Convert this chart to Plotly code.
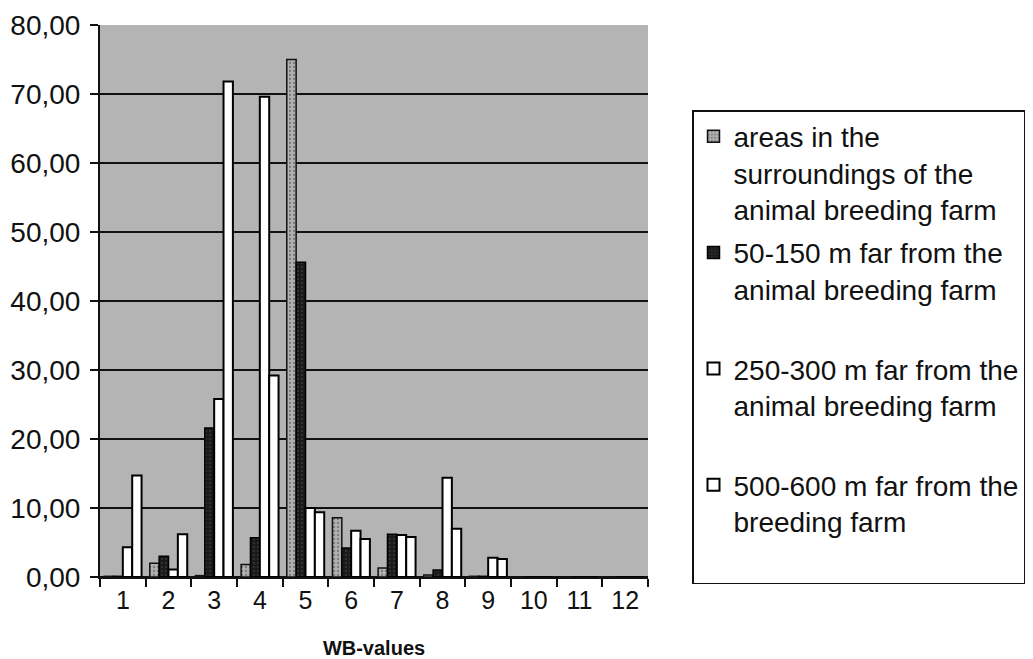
import plotly.graph_objects as go

categories = ["1", "2", "3", "4", "5", "6", "7", "8", "9", "10", "11", "12"]
surroundings = [0.1, 2.0, 0.2, 1.8, 75.0, 8.6, 1.3, 0.3, 0.1, 0.0, 0.0, 0.0]
m50_150 = [0.1, 3.0, 21.6, 5.7, 45.6, 4.2, 6.2, 1.0, 0.1, 0.0, 0.0, 0.0]
m250_300 = [4.3, 1.1, 25.8, 69.6, 10.0, 6.7, 6.1, 14.4, 2.8, 0.0, 0.0, 0.0]
m500_600 = [14.7, 6.2, 71.8, 29.2, 9.4, 5.5, 5.8, 7.0, 2.6, 0.0, 0.0, 0.0]
y_ticks = [0, 10, 20, 30, 40, 50, 60, 70, 80]

names = [
    "areas in the<br>surroundings of the<br>animal breeding farm",
    "50-150 m far from the<br>animal breeding farm<br>\u00a0",
    "250-300 m far from the<br>animal breeding farm<br>\u00a0",
    "500-600 m far from the<br>breeding farm<br>\u00a0",
]

fig = go.Figure()
fig.add_trace(go.Bar(
    x=categories, y=surroundings, name=names[0], legendgroup="g1",
    marker=dict(color="#a6a6a6", line=dict(color="#111", width=1.5),
                pattern=dict(shape=".", fgcolor="#444", bgcolor="#b0b0b0", size=4, solidity=0.25)),
))
fig.add_trace(go.Bar(
    x=categories, y=m50_150, name=names[1], legendgroup="g2",
    marker=dict(color="#1e1e1e", line=dict(color="#000", width=1.5),
                pattern=dict(shape=".", fgcolor="#555", bgcolor="#1a1a1a", size=4, solidity=0.2)),
))
fig.add_trace(go.Bar(
    x=categories, y=m250_300, name=names[2], legendgroup="g3",
    marker=dict(color="white", line=dict(color="#000", width=2)),
))
fig.add_trace(go.Bar(
    x=categories, y=m500_600, name=names[3], legendgroup="g4",
    marker=dict(color="white", line=dict(color="#000", width=2)),
))

fig.update_layout(
    width=1033, height=659,
    margin=dict(l=100, r=385, t=25, b=82, autoexpand=False),
    paper_bgcolor="white",
    plot_bgcolor="#b4b4b4",
    separators=",.",
    font=dict(family="Liberation Sans, Arial, sans-serif", color="#111"),
    barmode="group", bargap=0.18, bargroupgap=0,
    showlegend=True,
    legend=dict(
        x=(692 - 100) / 548, y=(577 - 110) / 552, xanchor="left", yanchor="top",
        bgcolor="white", bordercolor="#111", borderwidth=1.5,
        font=dict(size=28, family="Liberation Sans, Arial, sans-serif", color="#111"),
        valign="top", traceorder="grouped", tracegroupgap=4,
    ),
    xaxis=dict(
        type="category", tickson="boundaries", ticks="outside", ticklen=8,
        tickwidth=1.5, tickcolor="#111", showline=True, linecolor="#111", linewidth=2,
        tickfont=dict(size=25), showgrid=False,
        title=dict(text="<b>WB-values</b>", font=dict(size=20), standoff=29),
    ),
    yaxis=dict(
        range=[0, 80], tickvals=y_ticks, tickformat=".2f",
        ticks="outside", ticklen=8, tickwidth=1.5, tickcolor="#111",
        showline=True, linecolor="#111", linewidth=2,
        showgrid=True, gridcolor="#111", gridwidth=2,
        zeroline=True, zerolinecolor="#111", zerolinewidth=2,
        tickfont=dict(size=28), ticklabelstandoff=4,
    ),
)

fig.write_html(
    "out.html",
    config={"displayModeBar": False},
    post_script="document.body.style.margin='0';document.body.style.overflow='hidden';",
)
